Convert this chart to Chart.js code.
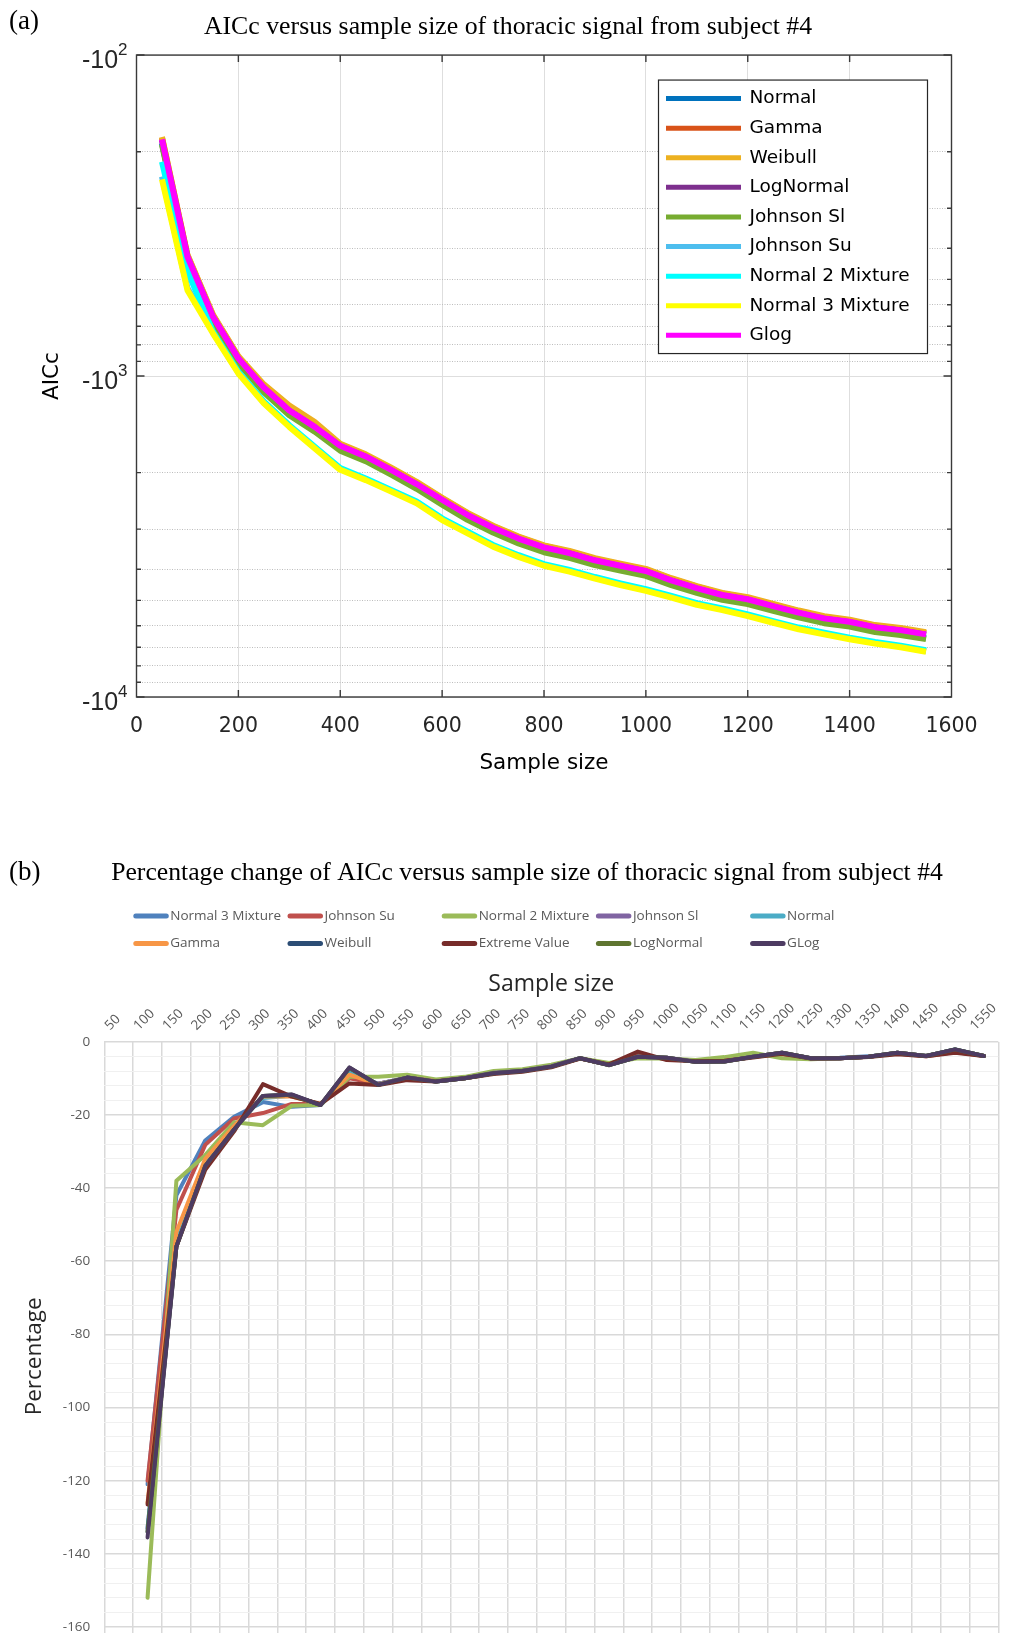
<!DOCTYPE html>
<html>
<head>
<meta charset="utf-8">
<script src="https://cdn.jsdelivr.net/npm/chart.js@4.4.1/dist/chart.umd.min.js"></script>
<style>
  html, body { margin: 0; padding: 0; width: 1011px; height: 1633px; overflow: hidden; background: #fff; }
  .wrap { position: absolute; left: 0; }
  #wrapA { top: 0; width: 1016px; height: 790px; }
  #wrapB { top: 840px; width: 1054px; height: 853px; }
  .panel-tag { position: absolute; z-index: 2; font-family: "Liberation Serif", "Times New Roman", serif; font-size: 27px; line-height: 27px; color: #000; }
</style>
</head>
<body>
<div id="wrapA" class="wrap"><canvas id="chartA" width="1016" height="790"></canvas></div>
<div id="wrapB" class="wrap"><canvas id="chartB" width="1054" height="853"></canvas></div>
<div class="panel-tag" style="left:9px; top:7px;">(a)</div>
<div class="panel-tag" style="left:9px; top:858px;">(b)</div>
<script>
// ---------- Panel (a): AICc against sample size ----------
const sampleSizes = [50, 100, 150, 200, 250, 300, 350, 400, 450, 500, 550, 600, 650, 700, 750, 800,
  850, 900, 950, 1000, 1050, 1100, 1150, 1200, 1250, 1300, 1350, 1400, 1450, 1500, 1550];

const aiccNormal = [-188, -436, -669, -903, -1112, -1312, -1476, -1691, -1825, -2009, -2224, -2491, -2778, -3044, -3290, -3506,
  -3649, -3844, -3998, -4151, -4438, -4695, -4930, -5084, -5340, -5597, -5832, -5976, -6212, -6345, -6540];
const aiccGamma = [-181, -421, -647, -873, -1075, -1266, -1425, -1634, -1763, -1941, -2149, -2406, -2683, -2940, -3178, -3386,
  -3525, -3713, -3861, -4010, -4287, -4534, -4762, -4911, -5158, -5405, -5633, -5772, -5999, -6128, -6316];
const aiccWeibull = [-180, -419, -643, -868, -1062, -1235, -1390, -1625, -1753, -1931, -2137, -2394, -2669, -2925, -3162, -3369,
  -3507, -3694, -3842, -3989, -4265, -4511, -4738, -4886, -5132, -5378, -5605, -5743, -5969, -6097, -6284];
const aiccLogNormal = [-184, -426, -655, -884, -1089, -1284, -1445, -1655, -1785, -1966, -2177, -2437, -2718, -2979, -3220, -3430,
  -3571, -3761, -3912, -4062, -4343, -4594, -4824, -4975, -5226, -5476, -5707, -5847, -6078, -6209, -6399];
const aiccJohnsonSl = [-190, -440, -676, -912, -1123, -1325, -1490, -1708, -1842, -2029, -2246, -2515, -2805, -3074, -3322, -3540,
  -3685, -3881, -4037, -4192, -4482, -4740, -4978, -5134, -5392, -5651, -5889, -6034, -6272, -6407, -6603];
const aiccJohnsonSu = [-239, -532, -731, -976, -1209, -1431, -1670, -1948, -2097, -2276, -2475, -2793, -3071, -3380, -3638, -3877,
  -4046, -4254, -4453, -4642, -4871, -5129, -5328, -5566, -5835, -6113, -6342, -6570, -6779, -6958, -7187];
const aiccNormal2Mix = [-215, -470, -727, -970, -1201, -1423, -1660, -1936, -2085, -2263, -2460, -2776, -3053, -3359, -3616, -3853,
  -4021, -4229, -4426, -4614, -4841, -5098, -5296, -5533, -5800, -6076, -6303, -6531, -6738, -6916, -7143];
const aiccNormal3Mix = [-244, -540, -736, -982, -1216, -1440, -1680, -1960, -2110, -2290, -2490, -2810, -3090, -3400, -3660, -3900,
  -4070, -4280, -4480, -4670, -4900, -5160, -5360, -5600, -5870, -6150, -6380, -6610, -6820, -7000, -7230];
const aiccGlog = [-183, -425, -653, -881, -1085, -1280, -1440, -1650, -1780, -1960, -2170, -2430, -2710, -2970, -3210, -3420,
  -3560, -3750, -3900, -4050, -4330, -4580, -4810, -4960, -5210, -5460, -5690, -5830, -6060, -6190, -6380];

const magnitudeTicksA = [100, 200, 300, 400, 500, 600, 700, 800, 900,
  1000, 2000, 3000, 4000, 5000, 6000, 7000, 8000, 9000, 10000];

const seriesA = [
  { label: 'Normal', values: aiccNormal, color: '#0072BD' },
  { label: 'Gamma', values: aiccGamma, color: '#D95319' },
  { label: 'Weibull', values: aiccWeibull, color: '#EDB120' },
  { label: 'LogNormal', values: aiccLogNormal, color: '#7E2F8E' },
  { label: 'Johnson Sl', values: aiccJohnsonSl, color: '#77AC30' },
  { label: 'Johnson Su', values: aiccJohnsonSu, color: '#4DBEEE' },
  { label: 'Normal 2 Mixture', values: aiccNormal2Mix, color: '#00FFFF' },
  { label: 'Normal 3 Mixture', values: aiccNormal3Mix, color: '#FFFF00' },
  { label: 'Glog', values: aiccGlog, color: '#FF00FF' }
];

// AICc is negative; the axis shows its magnitude on a log scale labelled -10^n
const toPoints = vals => vals.map((v, i) => ({ x: sampleSizes[i], y: -v }));

const isPow10 = v => Math.abs(Math.log10(v) - Math.round(Math.log10(v))) < 1e-9;

// Box, inward ticks, -10^n labels and boxed legend for panel (a)
const matlabAxes = {
  id: 'matlabAxes',
  afterDatasetsDraw(chart) {
    const { ctx, chartArea: a, scales: { x, y } } = chart;
    ctx.save();
    ctx.strokeStyle = '#3a3a3a';
    ctx.lineWidth = 1.4;
    ctx.strokeRect(a.left, a.top, a.right - a.left, a.bottom - a.top);
    ctx.beginPath();
    x.ticks.forEach(t => {
      const px = x.getPixelForValue(t.value);
      if (px <= a.left + 1 || px >= a.right - 1) return;
      ctx.moveTo(px, a.bottom); ctx.lineTo(px, a.bottom - 7);
      ctx.moveTo(px, a.top); ctx.lineTo(px, a.top + 7);
    });
    y.ticks.forEach(t => {
      const py = y.getPixelForValue(t.value);
      const len = t.major ? 8 : 4.5;
      ctx.moveTo(a.left, py); ctx.lineTo(a.left + len, py);
      ctx.moveTo(a.right, py); ctx.lineTo(a.right - len, py);
    });
    ctx.stroke();
    ctx.restore();
  },
  afterDraw(chart) {
    const { ctx, chartArea: a, scales: { y } } = chart;
    ctx.save();
    ctx.fillStyle = '#262626';
    ctx.textAlign = 'right';
    ctx.textBaseline = 'middle';
    y.ticks.filter(t => t.major).forEach(t => {
      const py = y.getPixelForValue(t.value);
      const exp = String(Math.round(Math.log10(t.value)));
      const right = a.left - 9;
      ctx.font = '17px "Liberation Sans"';
      const supW = ctx.measureText(exp).width;
      ctx.fillText(exp, right, py - 5);
      ctx.font = '25px "Liberation Sans"';
      ctx.fillText('-10', right - supW, py + 6);
    });

    // legend box in the upper right of the axes
    const bx = a.right - 293, by = a.top + 25, bw = 269, bh = 273.5;
    ctx.fillStyle = '#fff';
    ctx.fillRect(bx, by, bw, bh);
    ctx.strokeStyle = '#262626';
    ctx.lineWidth = 1.2;
    ctx.strokeRect(bx, by, bw, bh);
    ctx.font = '18.5px "DejaVu Sans"';
    ctx.textAlign = 'left';
    chart.data.datasets.forEach((ds, i) => {
      const ry = by + 18.5 + i * 29.6;
      ctx.strokeStyle = ds.borderColor;
      ctx.lineWidth = 5;
      ctx.beginPath();
      ctx.moveTo(bx + 7.5, ry); ctx.lineTo(bx + 82.5, ry);
      ctx.stroke();
      ctx.fillStyle = '#000';
      ctx.fillText(ds.label, bx + 91, ry);
    });
    ctx.restore();
  }
};

new Chart(document.getElementById('chartA'), {
  type: 'line',
  data: {
    datasets: seriesA.map((s, i) => ({
      label: s.label,
      data: toPoints(s.values),
      borderColor: s.color,
      backgroundColor: s.color,
      order: seriesA.length - 1 - i
    }))
  },
  options: {
    responsive: false,
    animation: false,
    layout: { padding: { left: 64.5, right: 64.5, top: 0, bottom: 0 } },
    elements: {
      point: { radius: 0 },
      line: { tension: 0, borderWidth: 6, borderJoinStyle: 'round' }
    },
    plugins: {
      legend: { display: false },
      tooltip: { enabled: false },
      title: {
        display: true,
        text: 'AICc versus sample size of thoracic signal from subject #4',
        font: { family: 'Liberation Serif', size: 25.8, weight: 'normal' },
        color: '#000',
        padding: { top: 11.5, bottom: 12.6 }
      }
    },
    scales: {
      x: {
        type: 'linear',
        min: 0, max: 1600,
        ticks: { stepSize: 200, maxRotation: 0, padding: 17.7, color: '#262626',
                 font: { family: 'DejaVu Sans', size: 20.5 },
                 callback: v => String(v) },
        grid: { color: '#dedede', lineWidth: 1, drawTicks: false },
        border: { display: false },
        title: { display: true, text: 'Sample size', color: '#000',
                 font: { family: 'DejaVu Sans', size: 21.5 }, padding: { top: 0, bottom: 14 } },
        afterFit: s => { s.height = 93; }
      },
      y: {
        type: 'logarithmic',
        reverse: true,
        min: 100, max: 10000,
        afterBuildTicks: s => { s.ticks = magnitudeTicksA.map(v => ({ value: v, major: isPow10(v) })); },
        ticks: { display: false },
        grid: {
          color: c => (c.tick && c.tick.major) ? '#dedede' : '#bdbdbd',
          lineWidth: 1,
          drawTicks: false
        },
        border: { display: false, dash: c => (c.tick && !c.tick.major) ? [1, 1.5] : [] },
        title: { display: true, text: 'AICc', color: '#000',
                 font: { family: 'DejaVu Sans', size: 21.5 }, padding: { top: -25.4, bottom: 0 } },
        afterFit: s => { s.width = 72; }
      }
    }
  },
  plugins: [matlabAxes]
});

// ---------- Panel (b): percentage change of AICc ----------
const sampleLabels = ['50', '100', '150', '200', '250', '300', '350', '400', '450', '500', '550', '600', '650', '700', '750', '800',
  '850', '900', '950', '1000', '1050', '1100', '1150', '1200', '1250', '1300', '1350', '1400', '1450', '1500', '1550'];

const pctNormal3Mix = [null, -121, -42, -27, -20.5, -16.5, -17.8, -17.3, -9, -11.5, -9.9, -10.8, -9.9, -8.5, -7.9, -6.7,
  -4.5, -6.3, -4.2, -4.5, -5.4, -5.3, -4.0, -3.2, -4.5, -4.4, -4.0, -3.1, -3.9, -2.4, -3.9];
const pctJohnsonSu = [null, -120, -46, -28.2, -21, -19.5, -17, -17, -10, -11.5, -10, -10.6, -9.8, -8.4, -7.8, -6.6,
  -4.6, -6.2, -3.5, -4.8, -5.2, -5.1, -4.1, -3.4, -4.6, -4.5, -4.1, -3.2, -4.0, -2.8, -3.9];
const pctNormal2Mix = [null, -152, -38, -31, -22, -22.8, -17.5, -17.3, -9.6, -9.6, -9, -10.3, -9.6, -8, -7.5, -6.3,
  -4.5, -5.8, -4.5, -4.6, -5, -4.2, -3.0, -4.5, -4.8, -4.5, -4.1, -3.1, -3.9, -2.3, -3.9];
const pctJohnsonSl = [null, -133, -55, -33, -23.5, -15, -14.6, -17.2, -8.2, -11.5, -9.8, -10.8, -9.9, -8.5, -7.9, -6.7,
  -4.5, -6.3, -4.1, -4.4, -5.4, -5.3, -4.1, -3.1, -4.5, -4.5, -4.1, -3.0, -3.9, -2.2, -3.9];
const pctNormal = [null, -133, -54, -33, -23, -15.4, -14.8, -17.2, -8.5, -11.6, -9.8, -10.9, -10, -8.6, -8, -6.8,
  -4.5, -6.4, -4.1, -4.4, -5.5, -5.4, -4.1, -3.0, -4.5, -4.5, -4.1, -3.0, -3.9, -2.1, -3.9];
const pctGamma = [null, -126, -52, -32, -23, -15, -15, -17, -9, -11.7, -9.8, -10.8, -10, -8.6, -8, -6.8,
  -4.5, -6.4, -4.1, -4.4, -5.5, -5.4, -4.1, -3.0, -4.5, -4.5, -4.1, -3.0, -3.9, -2.2, -3.9];
const pctWeibull = [null, -134, -56, -34, -24, -14.8, -14.5, -17.3, -7.2, -11.8, -9.8, -10.9, -10, -8.6, -8, -6.8,
  -4.5, -6.4, -4.1, -4.4, -5.5, -5.4, -4.1, -3.0, -4.5, -4.5, -4.1, -3.0, -3.9, -2.1, -3.9];
const pctExtremeValue = [null, -126.5, -56, -35, -24.5, -11.6, -15, -17, -11.4, -11.8, -10.5, -10.9, -10, -8.8, -8.2, -7,
  -4.6, -6.2, -2.7, -5, -5.3, -5.2, -4.3, -3.3, -4.6, -4.5, -4.2, -3.4, -4, -3.0, -3.9];
const pctLogNormal = [null, -134, -56, -34, -24, -14.8, -14.5, -17.3, -7.1, -11.8, -9.8, -10.9, -10, -8.6, -8, -6.8,
  -4.5, -6.4, -4.1, -4.4, -5.5, -5.4, -4.1, -3.0, -4.5, -4.5, -4.1, -3.0, -3.9, -2.1, -3.9];
const pctGLog = [null, -135.5, -56, -34, -24, -14.8, -14.4, -17.3, -7, -11.8, -9.8, -10.9, -10, -8.6, -8, -6.8,
  -4.5, -6.4, -4.1, -4.4, -5.5, -5.4, -4.1, -3.0, -4.5, -4.5, -4.1, -3.0, -3.9, -2.1, -3.9];

const seriesB = [
  { label: 'Normal 3 Mixture', values: pctNormal3Mix, color: '#4F81BD' },
  { label: 'Johnson Su', values: pctJohnsonSu, color: '#C0504D' },
  { label: 'Normal 2 Mixture', values: pctNormal2Mix, color: '#9BBB59' },
  { label: 'Johnson Sl', values: pctJohnsonSl, color: '#8064A2' },
  { label: 'Normal', values: pctNormal, color: '#4BACC6' },
  { label: 'Gamma', values: pctGamma, color: '#F79646' },
  { label: 'Weibull', values: pctWeibull, color: '#2C4D75' },
  { label: 'Extreme Value', values: pctExtremeValue, color: '#772C2A' },
  { label: 'LogNormal', values: pctLogNormal, color: '#5F7530' },
  { label: 'GLog', values: pctGLog, color: '#4D3B62' }
];

// Two-row, five-column legend under the title
const gridLegend = {
  id: 'gridLegend',
  afterDraw(chart) {
    const ctx = chart.ctx;
    const colX0 = 133.3, colStep = 154.2, rowY0 = 76, rowStep = 27.5;
    ctx.save();
    ctx.font = '13.5px "Open Sans"';
    ctx.textBaseline = 'middle';
    ctx.textAlign = 'left';
    chart.data.datasets.forEach((ds, i) => {
      const x = colX0 + (i % 5) * colStep;
      const y = rowY0 + Math.floor(i / 5) * rowStep;
      ctx.strokeStyle = ds.borderColor;
      ctx.lineWidth = 5;
      ctx.lineCap = 'round';
      ctx.beginPath();
      ctx.moveTo(x + 2.5, y); ctx.lineTo(x + 33, y);
      ctx.stroke();
      ctx.fillStyle = '#595959';
      ctx.fillText(ds.label, x + 37, y);
    });
    ctx.restore();
  }
};

new Chart(document.getElementById('chartB'), {
  type: 'line',
  data: {
    labels: sampleLabels,
    datasets: seriesB.map((s, i) => ({
      label: s.label,
      data: s.values,
      borderColor: s.color,
      backgroundColor: s.color,
      order: seriesB.length - 1 - i
    }))
  },
  options: {
    responsive: false,
    animation: false,
    layout: { padding: { left: 55.7, right: 55.7, top: 0, bottom: 0 } },
    elements: {
      point: { radius: 0 },
      line: { tension: 0, borderWidth: 4, borderJoinStyle: 'round', borderCapStyle: 'round' }
    },
    plugins: {
      legend: { display: false },
      tooltip: { enabled: false },
      title: {
        display: true,
        text: 'Percentage change of AICc versus sample size of thoracic signal from subject #4',
        font: { family: 'Liberation Serif', size: 25.7, weight: 'normal' },
        color: '#000',
        padding: { top: 17.6, bottom: 61.6 }
      }
    },
    scales: {
      x: {
        position: 'top',
        offset: true,
        grid: { offset: true, color: '#d9d9d9', lineWidth: 1.5, drawTicks: false },
        border: { display: false },
        ticks: { autoSkip: false, minRotation: 45, maxRotation: 45, padding: 8, color: '#595959',
                 font: { family: 'Open Sans', size: 13.5 } },
        title: { display: true, text: 'Sample size', color: '#262626',
                 font: { family: 'Open Sans', size: 23 }, padding: { top: 21, bottom: 0 } },
        afterFit: s => { s.height = 91.7; }
      },
      y: {
        min: -172, max: 0,
        ticks: { stepSize: 4, maxTicksLimit: 100, autoSkip: false, padding: 14, color: '#595959',
                 font: { family: 'Open Sans', size: 13.5 },
                 callback: v => (v % 20 === 0 ? v : '') },
        grid: {
          color: c => (c.tick && c.tick.value % 20 === 0) ? '#d9d9d9' : '#f0f0f0',
          lineWidth: c => (c.tick && c.tick.value % 20 === 0) ? 1.5 : 1,
          drawTicks: false
        },
        border: { display: false },
        title: { display: true, text: 'Percentage', color: '#262626',
                 font: { family: 'Open Sans', size: 22.5 }, padding: { top: -34.7, bottom: 0 } },
        afterFit: s => { s.width = 48.6; }
      }
    }
  },
  plugins: [gridLegend]
});
</script>
</body>
</html>
